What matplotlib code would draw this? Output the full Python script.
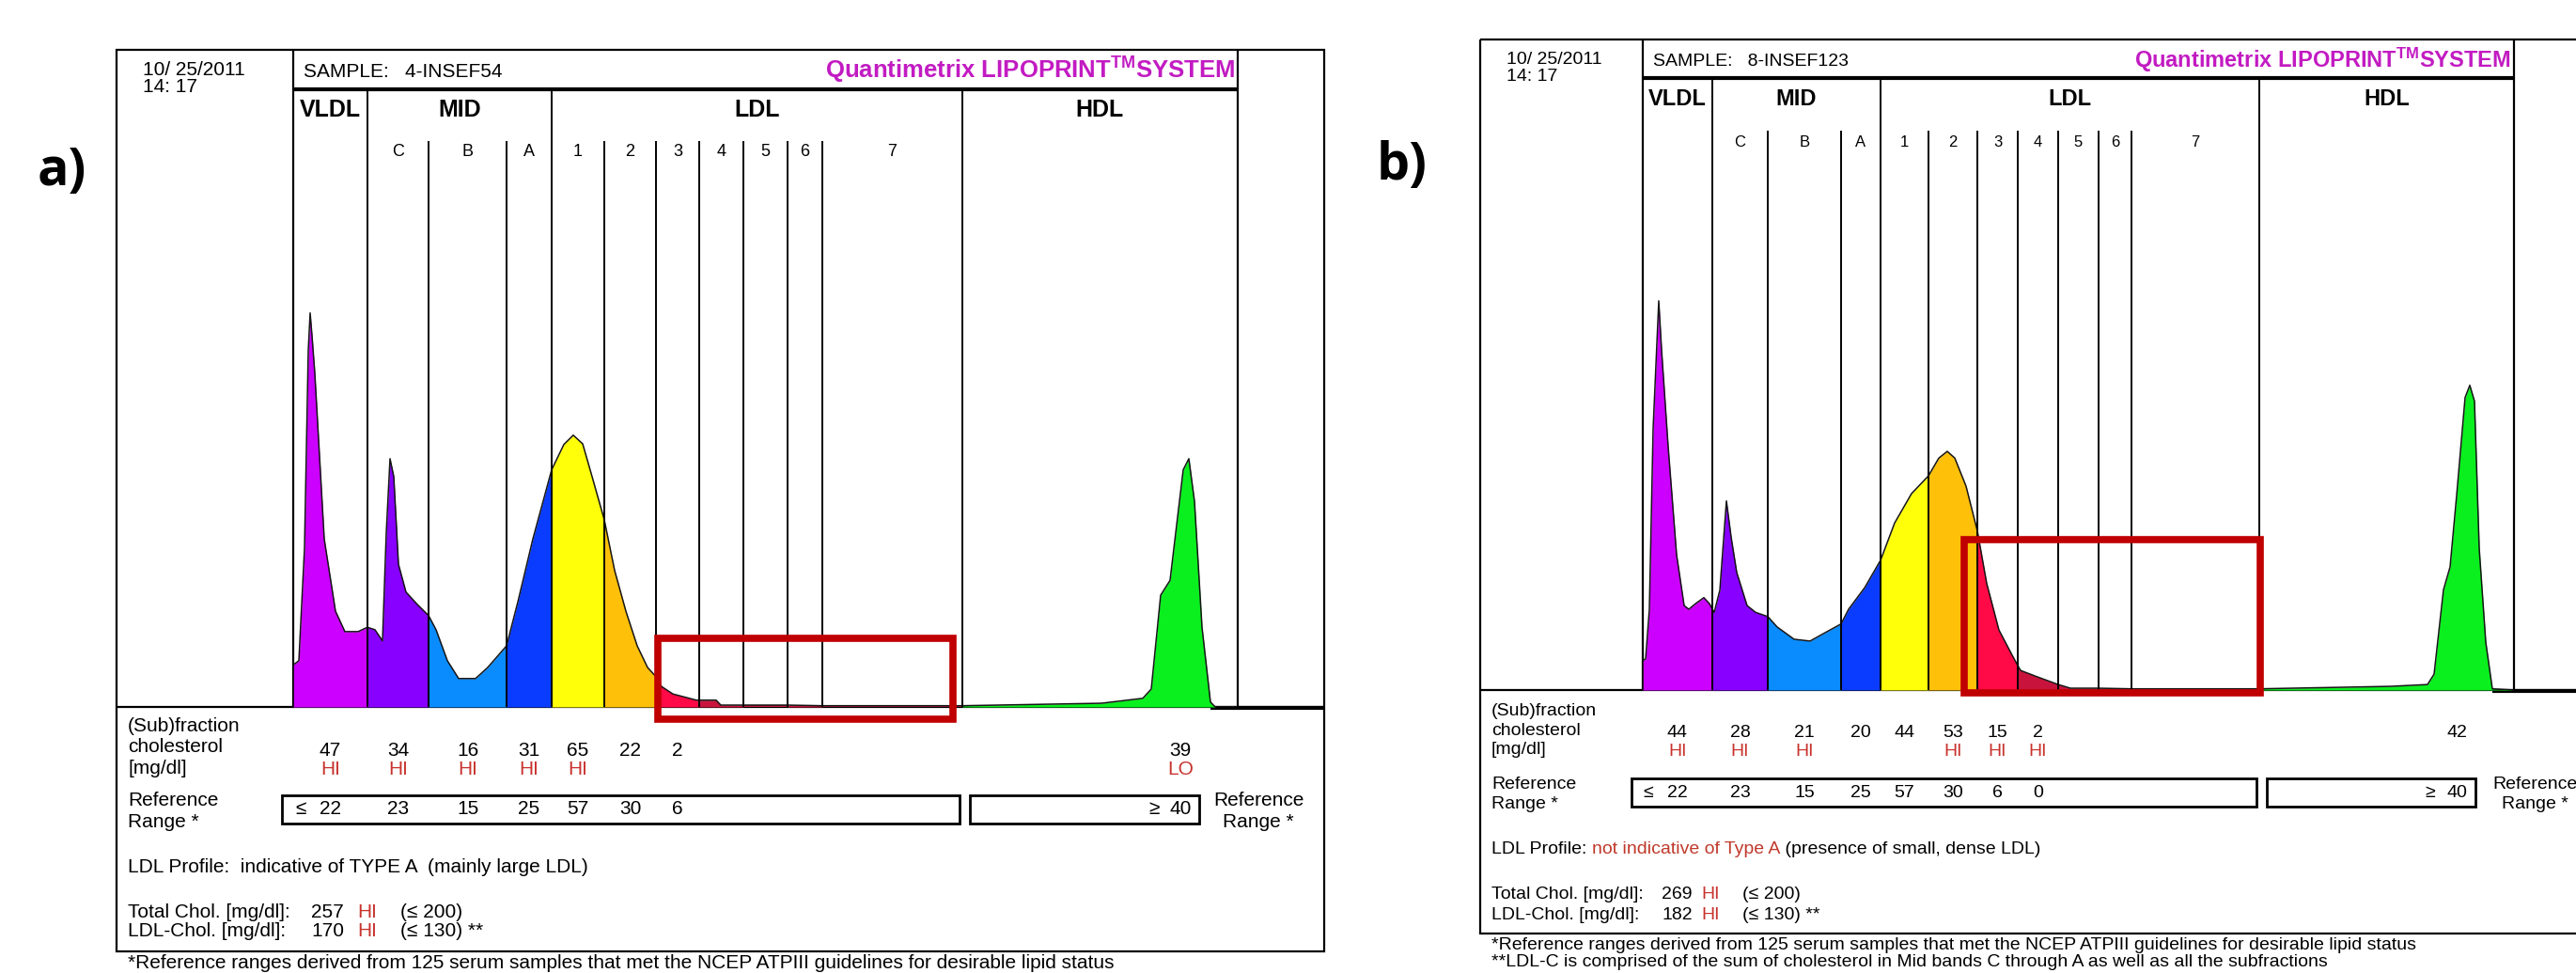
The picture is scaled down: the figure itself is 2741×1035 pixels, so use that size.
import matplotlib.pyplot as plt
import numpy as np
from matplotlib.patches import Rectangle
from matplotlib.transforms import blended_transform_factory

plt.rcParams['font.family'] = ['Liberation Sans', 'DejaVu Sans']
plt.rcParams['mathtext.fontset'] = 'custom'
plt.rcParams['mathtext.rm'] = 'Liberation Sans:bold'
plt.rcParams['mathtext.it'] = 'Liberation Sans:bold'
plt.rcParams['mathtext.bf'] = 'Liberation Sans:bold'

W, H = 2741, 1035

# lipoprotein fractions in order of migration
bands = ['VLDL', 'C', 'B', 'A', '1', '2', '3', '4', '5', '6', '7', 'HDL']
band_colors = ['#cc00ff', '#8800ff', '#0a8cff', '#0a3cff', '#ffff0a', '#ffc00a',
               '#ff0a46', '#c8143c', '#c8143c', '#c8143c', '#c8143c', '#0aef1e']
groups = ['VLDL', 'MID', 'LDL', 'HDL']
group_first = [0, 1, 4, 11, 12]

# ---- a) sample 4-INSEF54 ----
sample_a = '4-INSEF54'
edges_a = [0, 79, 144, 227, 275, 331, 386, 432, 479, 526, 563, 712, 1005]
scan_x_a = [0, 0, 6, 12, 16, 18, 20, 23, 33, 45, 55, 69, 79, 87, 95, 99, 103, 107, 112, 120,
            132, 144, 152, 164, 176, 194, 207, 227, 239, 255, 275, 288, 298, 308, 318, 331,
            342, 354, 366, 377, 386, 392, 404, 429, 432, 450, 455, 479, 526, 563, 712, 860,
            904, 913, 923, 933, 947, 953, 959, 967, 976, 981, 1005]
scan_y_a = [0, 6.8, 7.5, 25.7, 57.7, 63.8, 60.1, 54.0, 27.2, 15.5, 12.2, 12.2, 12.9, 12.5,
            10.7, 28.2, 40.2, 37.3, 23.1, 18.6, 16.6, 14.8, 12.5, 7.5, 4.6, 4.6, 6.4, 9.9,
            17.0, 27.2, 38.4, 42.5, 44.0, 42.6, 37.3, 30.3, 22.1, 15.5, 9.9, 6.4, 4.9, 3.3,
            2.1, 1.1, 1.1, 1.1, 0.3, 0.3, 0.3, 0.2, 0.2, 0.6, 1.4, 2.9, 18.1, 20.5, 38.4,
            40.2, 33.3, 12.9, 0.8, 0, 0]
chol_a = [47, 34, 16, 31, 65, 22, 2]
flag_a = ['HI', 'HI', 'HI', 'HI', 'HI', '', '']
ref_a = [22, 23, 15, 25, 57, 30, 6]
hdl_a, hdl_flag_a = 39, 'LO'
total_a, ldl_a = 257, 170
profile_a = [('LDL Profile:  indicative of TYPE A  (mainly large LDL)', 'k')]
mark_a = (388, 702, -2.0, 11.1)

# ---- b) sample 8-INSEF123 ----
sample_b = '8-INSEF123'
edges_b = [0, 74, 133, 211, 253, 304, 356, 399, 442, 485, 520, 656, 927]
scan_x_b = [0, 0, 3, 7, 11, 17, 20, 27, 36, 44, 49, 56, 65, 71, 74, 76, 82, 89, 94, 100,
            111, 120, 133, 143, 161, 178, 192, 211, 219, 236, 253, 268, 286, 304, 315, 324,
            332, 344, 356, 366, 379, 393, 399, 402, 419, 442, 455, 485, 520, 656, 795, 835,
            842, 852, 859, 866, 875, 880, 885, 890, 897, 904, 927]
scan_y_b = [0, 4.8, 5.1, 13.2, 42.7, 63.6, 55.6, 39.8, 22.1, 13.8, 13.2, 14.1, 15.1, 14.1,
            13.2, 12.7, 16.3, 30.9, 25.0, 19.2, 13.8, 12.7, 12.0, 10.3, 8.3, 8.0, 9.2, 10.8,
            13.2, 16.7, 21.2, 27.3, 32.1, 35.0, 37.9, 39.0, 37.9, 33.3, 26.0, 17.4, 9.8, 5.7,
            4.0, 3.2, 2.2, 0.9, 0.3, 0.3, 0.2, 0.2, 0.6, 0.9, 2.6, 16.4, 20.1, 31.8, 47.8,
            49.8, 47.2, 23.2, 7.8, 0.2, 0]
chol_b = [44, 28, 21, 20, 44, 53, 15, 2]
flag_b = ['HI', 'HI', 'HI', '', '', 'HI', 'HI', 'HI']
ref_b = [22, 23, 15, 25, 57, 30, 6, 0]
hdl_b, hdl_flag_b = 42, ''
total_b, ldl_b = 269, 182
profile_b = [('LDL Profile: ', 'k'), ('not indicative of Type A', '#c0392b'),
             (' (presence of small, dense LDL)', 'k')]
mark_b = (342, 657, -0.4, 24.6)

ref_hdl, ref_total, ref_ldl = 40, 200, 130
note1 = '*Reference ranges derived from 125 serum samples that met the NCEP ATPIII guidelines for desirable lipid status'
note2 = '**LDL-C is comprised of the sum of cholesterol in Mid bands C through A as well as all the subfractions'

RED = '#c8322d'
MAGENTA = '#c21bc2'

# page layout of the two report screenshots (pixels)
geo_a = dict(left=124, right=1409, top=53, bottom=1012, head=95, base=752,
             chart_l=312, chart_r=1317, fs=15, big=18, brand=18.5, num=331, hi=380, par=426)
geo_b = dict(left=1575, right=2760, top=42, bottom=993, head=83, base=734,
             chart_l=1748, chart_r=2675, fs=14, big=17, brand=17, num=1768, hi=1810, par=1854)


def chain(ax, x, y, parts, fs):
    t = ax.text(x, y, parts[0][0], color=parts[0][1], fontsize=fs, va='center')
    for s, c in parts[1:]:
        t = ax.annotate(s, xy=(1, 0), xycoords=t, color=c, fontsize=fs, va='bottom')
    return t


def draw_panel(fig, fr, g, sample, edges, sx, sy, chol, flags, ref, hdl, hdl_flag,
               total, ldl, profile, mark, notes):
    top, bot, left, right = g['top'], g['bottom'], g['left'], g['right']
    head, base, cl, cr = g['head'], g['base'], g['chart_l'], g['chart_r']
    fs = g['fs']

    ch = fig.add_axes([cl / W, 1 - base / H, (cr - cl) / W, (base - head) / H])
    ch.set_xlim(0, edges[-1])
    ch.set_ylim(0, 100)
    ch.axis('off')
    ch.patch.set_alpha(0)

    x = np.array(sx, float)
    y = np.array(sy, float)
    for i, col in enumerate(band_colors):
        m = (x >= edges[i]) & (x <= edges[i + 1])
        if m.sum() > 1:
            ch.fill_between(x[m], y[m], 0, color=col, lw=0)
    ch.plot(x, y, color='#151515', lw=1.1)

    minor_top = 100 * (base - top - 97) / (base - head)
    for i in range(1, len(edges) - 1):
        ch.vlines(edges[i], 0, 100 if i in group_first else minor_top, color='k', lw=1.4)

    ch.add_patch(Rectangle((mark[0], mark[2]), mark[1] - mark[0], mark[3] - mark[2],
                           fill=False, ec='#c00000', lw=5.5, clip_on=False, zorder=10))

    # report frame
    fr.add_patch(Rectangle((left, top), right - left, bot - top, fill=False, lw=1.6, ec='k'))
    fr.vlines([cl, cr], top, base, color='k', lw=1.6)
    fr.hlines(head, cl, cr, color='k', lw=3)
    fr.hlines(base, left, right, color='k', lw=1.6)
    fr.hlines(base + 1, cl + x[y > 0].max(), right, color='k', lw=3)

    T = blended_transform_factory(ch.transData, fr.transData)
    centers = [(edges[i] + edges[i + 1]) / 2 for i in range(len(bands))]

    fr.text(left + 28, top + 22, '10/ 25/2011', fontsize=fs, va='center')
    fr.text(left + 28, top + 39, '14: 17', fontsize=fs, va='center')
    fr.text(cl + 11, top + 23, 'SAMPLE:   ' + sample, fontsize=fs, va='center')
    fr.text(cr - 3, top + 22, r'Quantimetrix LIPOPRINT$^{\rm TM}$SYSTEM', fontsize=g['brand'],
            fontweight='bold', color=MAGENTA, ha='right', va='center')

    for k, name in enumerate(groups):
        gx = (edges[group_first[k]] + edges[group_first[k + 1]]) / 2
        fr.text(gx, top + 64, name, transform=T, fontsize=g['big'], fontweight='bold',
                ha='center', va='center')
    for i in range(1, len(bands) - 1):
        fr.text(centers[i], top + 109, bands[i], transform=T, fontsize=fs - 2,
                ha='center', va='center')

    # table under the scan
    fr.text(left + 12, base + 43, '(Sub)fraction\ncholesterol\n[mg/dl]', fontsize=fs,
            va='center', linespacing=1.25)
    for i, v in enumerate(chol):
        fr.text(centers[i], base + 46, str(v), transform=T, fontsize=fs, ha='center', va='center')
        fr.text(centers[i], base + 66, flags[i], transform=T, fontsize=fs, color=RED,
                ha='center', va='center')
    hx = cr - 61
    fr.text(hx, base + 46, str(hdl), fontsize=fs, ha='center', va='center')
    fr.text(hx, base + 66, hdl_flag, fontsize=fs, color=RED, ha='center', va='center')

    fr.text(left + 12, base + 111, 'Reference\nRange *', fontsize=fs, va='center',
            linespacing=1.25)
    fr.text(cr + 22, base + 111, 'Reference\nRange *', fontsize=fs, va='center',
            ha='center', linespacing=1.25, multialignment='center')
    b1 = cl + edges[11] - 3
    fr.add_patch(Rectangle((cl - 12, base + 94), b1 - cl + 12, 30, fill=False, lw=2, ec='k'))
    fr.add_patch(Rectangle((b1 + 11, base + 94), cr - 41 - b1 - 11, 30, fill=False, lw=2, ec='k'))
    for i, v in enumerate(ref):
        fr.text(centers[i], base + 109, str(v), transform=T, fontsize=fs, ha='center', va='center')
    fr.text(cl + centers[0] - 31, base + 109, '≤', fontsize=fs, ha='center', va='center')
    fr.text(hx, base + 109, str(ref_hdl), fontsize=fs, ha='center', va='center')
    fr.text(hx - 28, base + 109, '≥', fontsize=fs, ha='center', va='center')

    chain(fr, left + 12, base + 170, profile, fs)

    for dy, label, val, lim, tail in [(218, 'Total Chol. [mg/dl]:', total, ref_total, ''),
                                      (239, 'LDL-Chol. [mg/dl]:', ldl, ref_ldl, ' **')]:
        fr.text(left + 12, base + dy, label, fontsize=fs, va='center')
        fr.text(g['num'], base + dy, str(val), fontsize=fs, va='center')
        fr.text(g['hi'], base + dy, 'HI', fontsize=fs, color=RED, va='center')
        fr.text(g['par'], base + dy, '(≤ %d)%s' % (lim, tail), fontsize=fs, va='center')

    for k, n in enumerate(notes):
        fr.text(left + 12, bot + 13 + 18 * k, n, fontsize=fs, va='center')


fig = plt.figure(figsize=(W / 100, H / 100), dpi=100)
fr = fig.add_axes([0, 0, 1, 1])
fr.set_xlim(0, W)
fr.set_ylim(H, 0)
fr.axis('off')

draw_panel(fig, fr, geo_a, sample_a, edges_a, scan_x_a, scan_y_a, chol_a, flag_a, ref_a,
           hdl_a, hdl_flag_a, total_a, ldl_a, profile_a, mark_a, [note1])
draw_panel(fig, fr, geo_b, sample_b, edges_b, scan_x_b, scan_y_b, chol_b, flag_b, ref_b,
           hdl_b, hdl_flag_b, total_b, ldl_b, profile_b, mark_b, [note1, note2])

fr.text(66, 182, 'a)', fontsize=40, fontweight='bold', family='Open Sans',
        ha='center', va='center')
fr.text(1492, 177, 'b)', fontsize=40, fontweight='bold', family='Open Sans',
        ha='center', va='center')

fig.savefig('out.png', dpi=100)
